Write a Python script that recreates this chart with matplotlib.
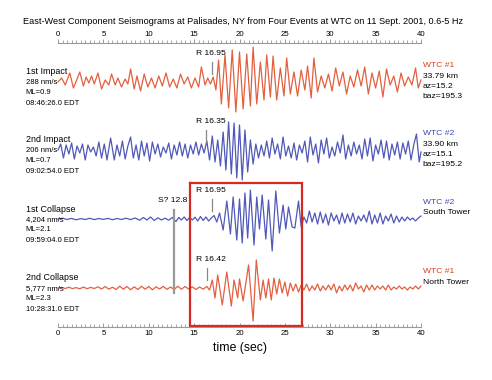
import numpy as np
import matplotlib
matplotlib.use("Agg")
import matplotlib.pyplot as plt
from matplotlib.ticker import MultipleLocator

plt.rcParams['font.family'] = ['Liberation Sans', 'DejaVu Sans']

# seismogram extrema: (time s, relative amplitude, up = +)
imp1 = [(0.0,0),(0.4,4),(0.8,-3),(1.3,9),(1.7,-6),(2.1,3),(2.4,10),(2.8,-4),(3.1,5),(3.4,-1),
        (3.7,6),(4.0,-2),(4.4,9),(4.8,-7),(5.2,2),(5.6,-3),(5.9,8),(6.3,-3),(6.6,4),(7.0,-5),
        (7.4,3),(7.7,-2),(8.0,13),(8.4,-7),(8.7,6),(9.1,-9),(9.5,8),(9.9,-5),(10.3,4),(10.7,-6),
        (11.1,6),(11.5,-4),(11.9,9),(12.3,-5),(12.7,3),(13.1,-6),(13.5,8),(13.9,-2),(14.3,5),(14.7,-6),
        (15.1,4),(15.5,-5),(15.8,15),(16.2,-3),(16.5,4),(16.8,-2),(17.1,5),(17.4,-8),(17.7,22),(18.0,-22),
        (18.4,27),(18.8,-26),(19.2,32),(19.6,-30),(20.0,30),(20.4,-27),(20.8,28),(21.2,-24),(21.5,35),(21.9,-22),
        (22.3,20),(22.7,-18),(23.0,27),(23.4,-15),(23.7,26),(24.1,-18),(24.5,14),(24.9,-14),(25.2,24),(25.6,-12),
        (26.0,10),(26.4,-14),(26.8,12),(27.2,-8),(27.5,16),(27.9,-16),(28.2,24),(28.6,-10),(29.0,6),(29.4,-6),
        (29.8,8),(30.2,-9),(30.6,14),(31.0,-4),(31.4,10),(31.8,-12),(32.2,6),(32.6,-5),(33.0,12),(33.4,-4),
        (33.8,15),(34.2,-12),(34.6,9),(35.0,-6),(35.4,11),(35.8,-15),(36.2,13),(36.6,-3),(37.0,6),(37.4,-10),
        (37.8,9),(38.2,-4),(38.6,5),(39.0,-3),(39.4,14),(39.7,-6),(40.0,2)]

imp2 = [(0.0,0),(0.3,6),(0.6,-8),(0.9,5),(1.2,-4),(1.5,7),(1.8,-9),(2.1,4),(2.4,-3),(2.7,6),
        (3.0,-10),(3.3,5),(3.6,-2),(3.9,3),(4.2,-6),(4.5,8),(4.8,-8),(5.1,6),(5.4,-10),(5.8,12),
        (6.2,-10),(6.5,5),(6.8,-6),(7.1,9),(7.4,-9),(7.7,4),(8.0,13),(8.3,-8),(8.6,5),(8.9,-10),
        (9.2,9),(9.5,-6),(9.8,7),(10.1,-11),(10.4,8),(10.7,-4),(11.0,6),(11.3,-7),(11.6,3),(11.9,-3),
        (12.2,7),(12.5,-9),(12.8,5),(13.1,-5),(13.4,8),(13.7,-6),(14.0,6),(14.3,-8),(14.6,5),(14.9,-4),
        (15.2,8),(15.5,-5),(15.8,6),(16.1,-3),(16.4,9),(16.7,-10),(17.0,14),(17.3,-12),(17.6,10),(17.9,-16),
        (18.2,18),(18.5,-20),(18.8,28),(19.1,-24),(19.4,27),(19.7,-28),(20.0,25),(20.3,-30),(20.6,20),(20.9,-22),
        (21.2,10),(21.5,-14),(21.8,6),(22.1,-8),(22.4,5),(22.7,-6),(23.0,9),(23.3,-8),(23.6,12),(23.9,-4),
        (24.2,6),(24.5,-9),(24.8,13),(25.1,-6),(25.4,4),(25.7,-8),(26.0,7),(26.3,-10),(26.6,5),(26.9,-3),
        (27.2,9),(27.5,-12),(27.8,13),(28.1,-5),(28.4,6),(28.7,-13),(29.0,10),(29.3,-4),(29.6,12),(29.9,-8),
        (30.2,3),(30.5,-6),(30.8,8),(31.1,-3),(31.4,15),(31.7,-9),(32.0,5),(32.3,-6),(32.6,8),(32.9,-4),
        (33.2,5),(33.5,-9),(33.8,11),(34.1,-6),(34.4,12),(34.7,-11),(35.0,5),(35.3,-4),(35.6,10),(35.9,-8),
        (36.2,9),(36.5,-10),(36.8,6),(37.1,-5),(37.4,8),(37.7,-9),(38.0,7),(38.3,-4),(38.6,9),(38.9,-10),
        (39.2,5),(39.5,16),(39.8,-12),(40.0,-2)]

col1 = [(0.0,0),(0.5,0.8),(1.0,-0.5),(1.5,0.6),(2.0,-0.8),(2.5,0.4),(3.0,-0.5),(3.5,0.7),(4.0,-0.6),(4.5,0.5),
        (5.0,-0.4),(5.5,0.6),(6.0,-0.7),(6.5,0.5),(7.0,-0.5),(7.5,0.8),(8.0,-0.6),(8.5,1.0),(9.0,-1.2),(9.4,1.5),
        (9.8,-1.0),(10.2,2.0),(10.6,-1.5),(11.0,1.2),(11.4,-1.0),(11.8,0.8),(12.2,-1.2),(12.6,1.5),(13.0,-2.5),(13.3,1.5),
        (13.6,-1.0),(13.9,2.0),(14.2,-1.5),(14.5,1.5),(14.8,-1.0),(15.1,1.8),(15.4,-2.0),(15.7,2.5),(16.0,-1.5),(16.3,2.0),
        (16.6,-2.0),(16.9,1.0),(17.2,3.5),(17.5,-3),(17.8,6),(18.2,-11),(18.6,18),(19.0,-15),(19.3,22),(19.7,-21),
        (20.0,20),(20.3,-24),(20.6,26),(20.9,-19),(21.2,29),(21.6,-26),(21.9,22),(22.2,-10),(22.5,24),(22.9,-20),
        (23.2,19),(23.6,-32),(24.0,28),(24.4,-14),(24.8,14),(25.1,-10),(25.4,12),(25.8,-8),(26.1,-9),(26.5,18),
        (26.8,-8),(27.1,2),(27.4,-4),(27.7,8),(28.0,-3),(28.3,6),(28.6,-5),(28.9,7),(29.2,-4),(29.5,5),
        (29.8,-6),(30.1,6),(30.4,-2),(30.7,4),(31.0,-5),(31.3,6),(31.6,-4),(31.9,5),(32.2,-3),(32.5,6),
        (32.8,-5),(33.1,3),(33.4,-2),(33.7,4),(34.0,-3),(34.3,8),(34.6,-5),(34.9,4),(35.2,-4),(35.5,6),
        (35.8,-5),(36.1,3),(36.4,-2),(36.7,5),(37.0,-4),(37.3,3),(37.6,-3),(37.9,2),(38.2,-2),(38.5,2),
        (38.8,-1),(39.1,1),(39.4,-2),(39.7,1),(40.0,3)]

col2 = [(0.0,0),(0.4,0.5),(0.8,-0.5),(1.2,0.8),(1.6,-0.6),(2.0,0.4),(2.4,-0.8),(2.8,1.0),(3.2,-0.7),(3.6,0.6),
        (4.0,-0.5),(4.4,1.2),(4.8,-1.0),(5.2,1.5),(5.6,-1.2),(6.0,0.8),(6.4,-1.5),(6.8,1.8),(7.2,-1.2),(7.6,1.5),
        (8.0,-1.8),(8.4,1.2),(8.8,-1.5),(9.2,1.8),(9.6,-1.2),(10.0,1.5),(10.4,-1.8),(10.8,1.2),(11.2,-1.0),(11.6,1.6),
        (12.0,-1.4),(12.4,1.0),(12.8,-1.5),(13.2,1.8),(13.6,-1.2),(14.0,1.5),(14.4,-1.0),(14.8,1.2),(15.2,-1.5),(15.6,1.0),
        (16.0,-1.2),(16.4,1.5),(16.7,-2),(17.0,8),(17.3,-10),(17.6,13),(18.1,-17),(18.6,16),(19.1,-18),(19.4,8),
        (19.8,-10),(20.0,9),(20.4,-13),(21.0,23),(21.5,-33),(21.85,28),(22.3,-12),(22.6,8),(22.9,-10),(23.2,9),
        (23.5,-12),(23.8,10),(24.1,-6),(24.4,9),(24.7,-5),(25.0,6),(25.3,-8),(25.6,5),(25.9,-3),(26.2,4),
        (26.5,-4),(26.8,3),(27.1,-2),(27.4,4),(27.7,-3),(28.0,2),(28.3,-2),(28.6,4),(28.9,-3),(29.2,2),
        (29.5,-2),(29.8,3),(30.1,-2),(30.4,4),(30.7,-5),(31.0,2),(31.3,-3),(31.6,3),(31.9,-2),(32.2,3),
        (32.5,-3),(32.8,5),(33.1,-1),(33.4,2),(33.7,-4),(34.0,3),(34.3,-2),(34.6,3),(34.9,-2),(35.2,2),
        (35.5,-1),(35.8,2),(36.1,-2),(36.4,3),(36.7,-2),(37.0,1),(37.3,-1),(37.6,2),(37.9,-1),(38.2,1),
        (38.5,-2),(38.8,1),(39.1,-1),(39.4,2),(39.7,-1),(40.0,2)]

traces = [imp1, imp2, col1, col2]
event_names = ["1st Impact", "2nd Impact", "1st Collapse", "2nd Collapse"]
event_info = [["288 nm/s", "ML=0.9", "08:46:26.0 EDT"],
              ["206 nm/s", "ML=0.7", "09:02:54.0 EDT"],
              ["4,204 nm/s", "ML=2.1", "09:59:04.0 EDT"],
              ["5,777 nm/s", "ML=2.3", "10:28:31.0 EDT"]]
source_names = ["WTC #1", "WTC #2", "WTC #2", "WTC #1"]
source_info = [["33.79 km", "az=15.2", "baz=195.3"],
               ["33.90 km", "az=15.1", "baz=195.2"],
               ["South Tower"],
               ["North Tower"]]
r_times = [16.95, 16.35, 16.95, 16.42]
s_time = 12.8

RED = "#e2603f"
BLUE = "#5058b8"
colors = [RED, BLUE, BLUE, RED]
label_colors = ["#dd3b1c", "#3a48b4", "#3a48b4", "#dd3b1c"]

baselines = [82, 150, 219, 288]   # trace offsets (in pixel-like units, axis inverted)

fig = plt.figure(figsize=(4.92, 3.80), dpi=100)
ax = fig.add_axes([58/492, 53/380, 363/492, 283.7/380])
ax.set_xlim(0, 40)
ax.set_ylim(327, 43.3)

for i, tr in enumerate(traces):
    t, a = np.array(tr).T
    ax.plot(t, baselines[i] - a, color=colors[i], lw=0.9, clip_on=False, solid_joinstyle='round')

    # left text block
    ax.text(-3.55, baselines[i] - 10, event_names[i], fontsize=6.4, va='center', ha='left', clip_on=False)
    for j, s in enumerate(event_info[i]):
        ax.text(-3.55, baselines[i] + 0.5 + 10.3 * j, s, fontsize=5.5, va='center', ha='left', clip_on=False)

    # right text block
    ax.text(40.2, baselines[i] - 16.5, source_names[i], fontsize=6.1, color=label_colors[i],
            va='center', ha='left', clip_on=False)
    for j, s in enumerate(source_info[i]):
        ax.text(40.2, baselines[i] - 6 + 10.3 * j, s, fontsize=6.1, va='center', ha='left', clip_on=False)

    # Rayleigh arrival marker
    ax.plot([r_times[i], r_times[i]], [baselines[i] - 20, baselines[i] - 8], color="#888888", lw=0.9)
    ax.text(15.2, baselines[i] - 28.5, "R %.2f" % r_times[i], fontsize=6.1, va='center', ha='left')

# S arrival line
ax.plot([s_time, s_time], [210, 293], color="#999999", lw=1.6)
ax.text(s_time - 0.2, 201, "S? %.1f" % s_time, fontsize=6.1, va='center', ha='center')

# red box around the collapse Rayleigh waves
ax.plot([14.6, 26.9, 26.9, 14.6, 14.6], [182.7, 182.7, 326, 326, 182.7],
        color="#d42a22", lw=1.6, clip_on=False, solid_joinstyle='miter')

for side in ['left', 'right', 'top']:
    ax.spines[side].set_visible(False)
ax.spines['bottom'].set_color("#999999")
ax.spines['bottom'].set_linewidth(0.8)
ax.set_yticks([])
ax.xaxis.set_major_locator(MultipleLocator(5))
ax.xaxis.set_minor_locator(MultipleLocator(0.5))
ax.tick_params(axis='x', which='both', direction='in', color="#999999", labelsize=5.6, pad=2.5)
ax.tick_params(axis='x', which='major', length=3, width=0.7)
ax.tick_params(axis='x', which='minor', length=2.2, width=0.6)

sec = ax.secondary_xaxis('top')
sec.spines['top'].set_color("#999999")
sec.spines['top'].set_linewidth(0.8)
sec.xaxis.set_major_locator(MultipleLocator(5))
sec.xaxis.set_minor_locator(MultipleLocator(0.5))
sec.tick_params(axis='x', which='both', direction='out', color="#999999", labelsize=5.6, pad=0.5)
sec.tick_params(axis='x', which='major', length=3, width=0.7)
sec.tick_params(axis='x', which='minor', length=2.2, width=0.6)

fig.text(243/492, 1 - 22/380,
         "East-West Component Seismograms at Palisades, NY from Four Events at WTC on 11 Sept. 2001, 0.6-5 Hz",
         fontsize=6.6, ha='center', va='center')
fig.text(240/492, 1 - 348/380, "time (sec)", fontsize=8.8, ha='center', va='center')

fig.savefig("out.png", dpi=100)
